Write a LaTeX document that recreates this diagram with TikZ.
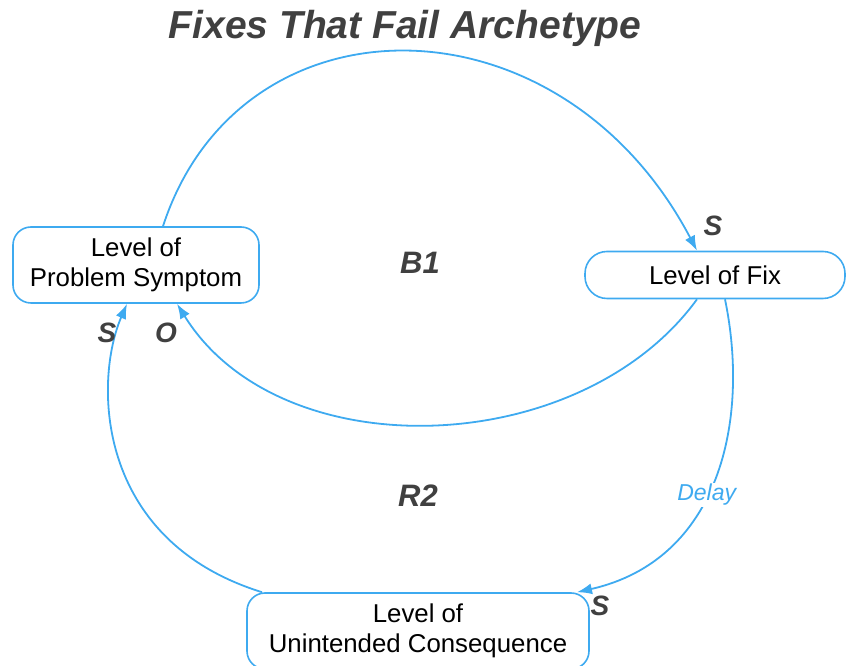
\documentclass[tikz,border=0pt]{standalone}
\usepackage{fontspec}
\setmainfont{Liberation Sans}
\usepackage{xcolor}
\usepackage{tikz}
\usetikzlibrary{arrows.meta}

\definecolor{linkblue}{RGB}{62,170,240}
\definecolor{labelgray}{RGB}{64,64,64}

\begin{document}
\begin{tikzpicture}[x=1pt, y=1pt,
    levelbox/.style={draw=linkblue, line width=1.6pt, rounded corners=18pt, align=center,
        font=\fontsize{25.8}{30}\selectfont},
    link/.style={draw=linkblue, line width=1.8pt, -{Latex[length=15pt,width=11pt]}},
    polarity/.style={text=labelgray, font=\fontsize{28}{30}\selectfont\bfseries\itshape},
    looplabel/.style={text=labelgray, font=\fontsize{31}{34}\selectfont\bfseries\itshape}]
    \useasboundingbox (0,0) rectangle (846,666);
    % Title
    \node (title) at (405,638) {\fontsize{39}{42}\selectfont\bfseries\itshape\color{labelgray}Fixes That Fail Archetype};
    % The three levels
    \node[levelbox, minimum width=246pt, minimum height=76pt] (symptom) at (136,401) {Level of\\Problem Symptom};
    \node[levelbox, minimum width=260pt, minimum height=47pt, rounded corners=22pt] (fix) at (715,391) {Level of Fix};
    \node[levelbox, minimum width=342pt, minimum height=76pt] (consequence) at (418,35) {Level of\\Unintended Consequence};
    % Balancing loop
    \draw[link] ([xshift=27pt]symptom.north) .. controls (240,676) and (560,676) .. ([xshift=-18pt]fix.north);
    \draw[link] ([xshift=-18pt]fix.south) .. controls (580,206) and (280,196) .. ([xshift=41pt]symptom.south);
    % Reinforcing loop with delay
    \draw[link] ([xshift=10pt]fix.south) .. controls (750,246) and (720,106) .. ([xshift=159pt]consequence.north)
        node[pos=0.55, fill=white, inner sep=1pt, text=linkblue, font=\fontsize{23}{26}\selectfont\itshape] (delay) {Delay};
    \draw[link] ([xshift=-156pt]consequence.north) .. controls (94,126) and (94,286) .. ([xshift=-9pt]symptom.south);
    % Polarities
    \node[polarity] (sfix) at (713,440) {S};
    \node[polarity] (ssym) at (107,333) {S};
    \node[polarity] (osym) at (166,333) {O};
    \node[polarity] (scon) at (600,60) {S};
    % Loop names
    \node[looplabel] (b1) at (420,403) {B1};
    \node[looplabel] (r2) at (418,170) {R2};
\end{tikzpicture}
\end{document}
